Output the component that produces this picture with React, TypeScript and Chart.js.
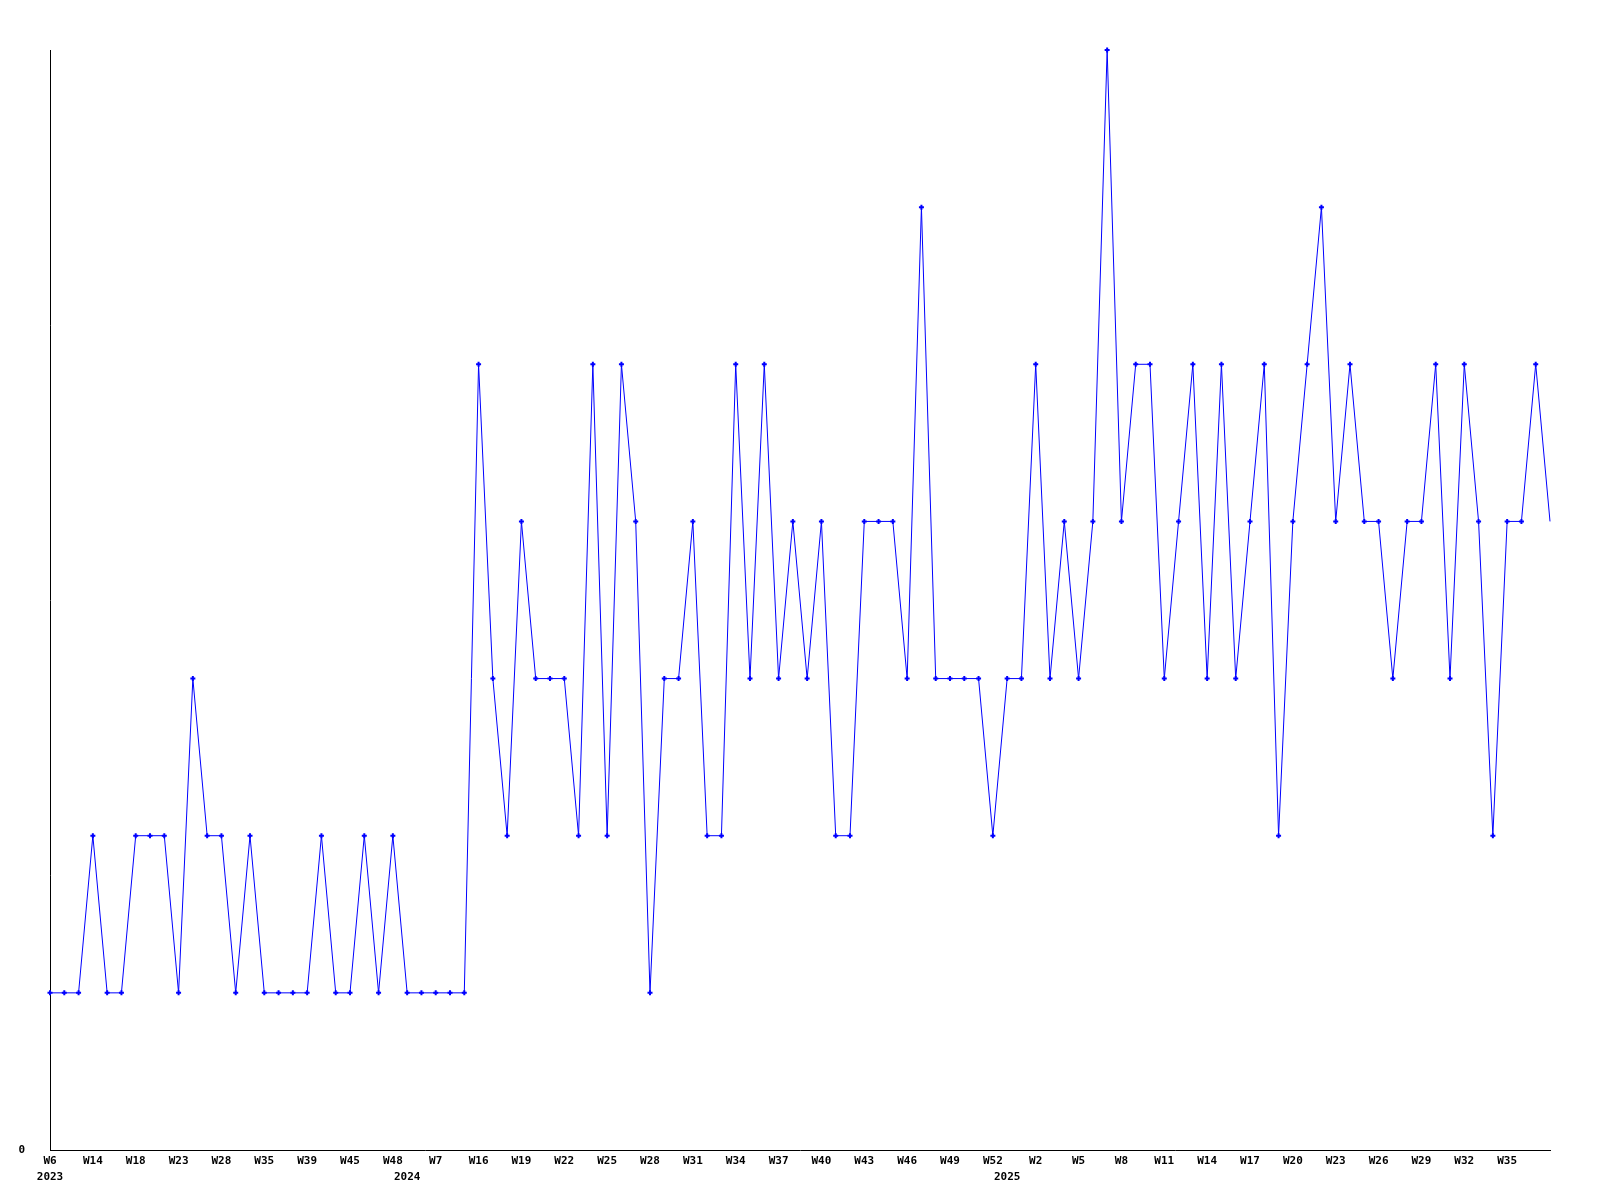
import React, { useEffect, useRef } from 'react';
import { Chart, registerables } from 'chart.js';

Chart.register(...registerables);

// Category labels (week numbers), split by year
const weeks2023 = [
  'W6', 'W8', 'W11', 'W14', 'W15', 'W16', 'W18', 'W20', 'W21', 'W23', 'W25', 'W26', 'W28',
  'W30', 'W33', 'W35', 'W36', 'W37', 'W39', 'W41', 'W43', 'W45', 'W46', 'W47', 'W48',
];
const weeks2024 = [
  'W2', 'W4', 'W7', 'W10', 'W13', 'W16', 'W17', 'W18', 'W19', 'W20', 'W21', 'W22', 'W23',
  'W24', 'W25', 'W26', 'W27', 'W28', 'W29', 'W30', 'W31', 'W32', 'W33', 'W34', 'W35', 'W36',
  'W37', 'W38', 'W39', 'W40', 'W41', 'W42', 'W43', 'W44', 'W45', 'W46', 'W47', 'W48', 'W49',
  'W50', 'W51', 'W52',
];
const weeks2025 = [
  'W0', 'W1', 'W2', 'W3', 'W4', 'W5', 'W6', 'W7', 'W8', 'W9', 'W10', 'W11', 'W12', 'W13',
  'W14', 'W15', 'W16', 'W17', 'W18', 'W19', 'W20', 'W21', 'W22', 'W23', 'W24', 'W25', 'W26',
  'W27', 'W28', 'W29', 'W30', 'W31', 'W32', 'W33', 'W34', 'W35', 'W36', 'W37', 'W38',
];
const yearNames = ['2023', '2024', '2025'];

// Series values
const counts2023 = [
  1, 1, 1, 2, 1, 1, 2, 2, 2, 1, 3, 2, 2, 1, 2, 1, 1, 1, 1, 2, 1, 1, 2, 1, 2,
];
const counts2024 = [
  1, 1, 1, 1, 1, 5, 3, 2, 4, 3, 3, 3, 2, 5, 2, 5, 4, 1, 3, 3, 4, 2, 2, 5, 3, 5, 3, 4, 3, 4,
  2, 2, 4, 4, 4, 3, 6, 3, 3, 3, 3, 2,
];
const counts2025 = [
  3, 3, 5, 3, 4, 3, 4, 7, 4, 5, 5, 3, 4, 5, 3, 5, 3, 4, 5, 2, 4, 5, 6, 4, 5, 4, 4, 3, 4, 4,
  5, 3, 5, 4, 2, 4, 4, 5, 4,
];

const yMin = 0;
const yMax = 7;
const labelEvery = 3;

const weekLabels = [...weeks2023, ...weeks2024, ...weeks2025];
const counts = [...counts2023, ...counts2024, ...counts2025];
const yearStartIndex = [0, weeks2023.length, weeks2023.length + weeks2024.length];

const tickFont = { family: '"DejaVu Sans Mono", "Liberation Mono", monospace', size: 11, weight: 'bold' as const };

export default function App() {
  const canvasRef = useRef<HTMLCanvasElement | null>(null);

  useEffect(() => {
    const canvas = canvasRef.current;
    if (!canvas) return;
    const chart = new Chart(canvas, {
      type: 'line',
      data: {
        labels: weekLabels,
        datasets: [
          {
            data: counts,
            borderColor: '#0000ff',
            backgroundColor: '#0000ff',
            borderWidth: 1,
            tension: 0,
            fill: false,
            clip: false,
            pointStyle: 'cross',
            pointRadius: (c: any) => (c.dataIndex === counts.length - 1 ? 0 : 2.5),
            pointBorderWidth: 2,
            pointBorderColor: '#0000ff',
            pointBackgroundColor: '#0000ff',
          },
        ],
      },
      options: {
        responsive: false,
        animation: false,
        layout: { padding: { left: 0, top: 50, right: 50, bottom: 0 } },
        plugins: { legend: { display: false }, tooltip: { enabled: false } },
        scales: {
          x: {
            type: 'category',
            position: 'bottom',
            weight: 0,
            offset: false,
            grid: { display: false, drawTicks: false },
            border: { display: true, color: '#000000', width: 1 },
            ticks: {
              autoSkip: false,
              maxRotation: 0,
              minRotation: 0,
              padding: 5,
              color: '#000000',
              font: tickFont,
              callback: (_v: any, i: number) =>
                i % labelEvery === 0 && i + labelEvery < weekLabels.length ? weekLabels[i] : '',
            },
            afterFit: (s: any) => {
              s.height = 20;
            },
          },
          x2: {
            type: 'category',
            position: 'bottom',
            weight: 1,
            offset: false,
            labels: weekLabels,
            grid: { display: false, drawTicks: false },
            border: { display: false },
            ticks: {
              autoSkip: false,
              maxRotation: 0,
              minRotation: 0,
              padding: 1,
              color: '#000000',
              font: tickFont,
              callback: (_v: any, i: number) => {
                const k = yearStartIndex.indexOf(i);
                return k >= 0 ? yearNames[k] : '';
              },
            },
            afterFit: (s: any) => {
              s.height = 30;
            },
          },
          y: {
            type: 'linear',
            min: yMin,
            max: yMax,
            grid: { display: false, drawTicks: false },
            border: { display: true, color: '#000000', width: 1 },
            ticks: {
              stepSize: yMax,
              padding: 25,
              color: '#000000',
              font: tickFont,
              callback: (v: any) => (v === 0 ? '0' : ''),
            },
            afterFit: (s: any) => {
              s.width = 50;
            },
          },
        },
      },
    } as any);
    return () => chart.destroy();
  }, []);

  return (
    <div style={{ position: 'absolute', left: 0, top: 0, width: 1600, height: 1200, background: '#ffffff' }}>
      <canvas ref={canvasRef} width={1600} height={1200} style={{ display: 'block' }} />
    </div>
  );
}
